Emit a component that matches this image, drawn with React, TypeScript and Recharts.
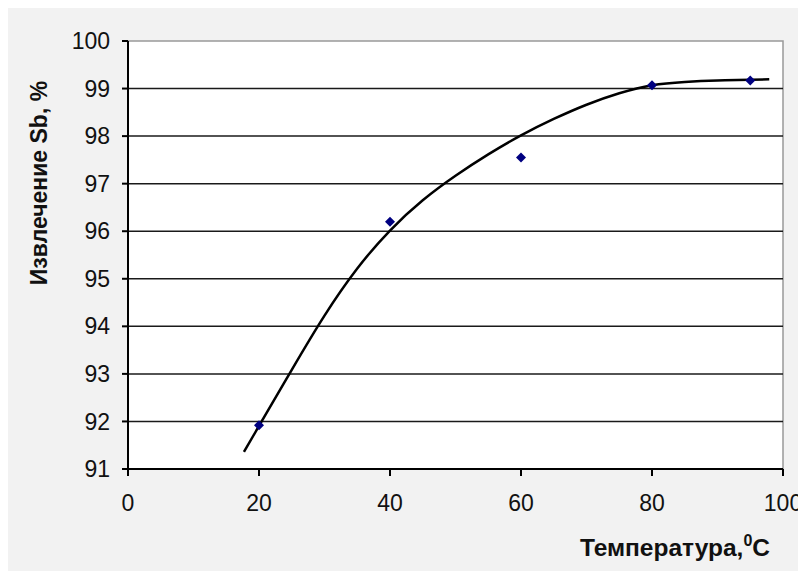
import React from 'react';
import {
  ComposedChart,
  XAxis,
  YAxis,
  Line,
  Scatter,
  ReferenceLine,
  ReferenceArea,
  Label,
} from 'recharts';

const FONT = '"Liberation Sans", Arial, sans-serif';

// Measured extraction of Sb vs. temperature
const tempC = [20, 40, 60, 80, 95];
const extraction = [91.92, 96.2, 97.55, 99.07, 99.17];

// Smoothed trend curve through the measurements
const trendTemp = [17.7, 20, 25, 30, 35, 40, 45, 50, 55, 60, 65, 70, 75, 80, 85, 90, 95, 97.9];
const trendExtraction = [
  91.36, 91.905, 93.085, 94.225, 95.215, 96.015, 96.65, 97.165, 97.615, 98.015, 98.36, 98.66,
  98.9, 99.07, 99.14, 99.17, 99.185, 99.194,
];

// Axis ticks and grid
const xTicks = [0, 20, 40, 60, 80, 100];
const yTicks = [91, 92, 93, 94, 95, 96, 97, 98, 99, 100];
const gridValues = [92, 93, 94, 95, 96, 97, 98, 99];

const points = tempC.map((x, i) => ({ x, y: extraction[i] }));
const trend = trendTemp.map((x, i) => ({ x, y: trendExtraction[i] }));

const Diamond = (props: any) => {
  const { cx, cy } = props;
  if (cx == null || cy == null) return null;
  const r = 5;
  return (
    <polygon
      points={`${cx},${cy - r} ${cx + r},${cy} ${cx},${cy + r} ${cx - r},${cy}`}
      fill="#000080"
    />
  );
};

const YTitle = (props: any) => {
  const vb = props.viewBox || { x: 0, y: 0 };
  const cx = vb.x + 31;
  const cy = vb.y + 142;
  return (
    <text
      x={cx}
      y={cy}
      transform={`rotate(-90, ${cx}, ${cy})`}
      textAnchor="middle"
      dominantBaseline="central"
      fontFamily={FONT}
      fontWeight="bold"
      fontSize={23}
      fill="#111"
    >
      Извлечение Sb, %
    </text>
  );
};

const XTitle = (props: any) => {
  const vb = props.viewBox || { x: 0, y: 0 };
  return (
    <text
      x={vb.x + 642}
      y={vb.y + 87}
      textAnchor="end"
      fontFamily={FONT}
      fontWeight="bold"
      fontSize={24.5}
      fill="#111"
    >
      Температура,
      <tspan fontSize={16} dy={-10}>0</tspan>
      <tspan dy={10}>C</tspan>
    </text>
  );
};

export default function App() {
  return (
    <div style={{ width: 798, height: 563, background: '#f2f2f2' }}>
      <ComposedChart
        width={798}
        height={563}
        margin={{ top: 33, right: 23, bottom: 0, left: 0 }}
      >
        <XAxis
          type="number"
          dataKey="x"
          domain={[0, 100]}
          ticks={xTicks}
          interval={0}
          allowDataOverflow
          height={102}
          tickSize={7}
          tickMargin={19}
          axisLine={{ stroke: '#000', strokeWidth: 2 }}
          tickLine={{ stroke: '#000', strokeWidth: 2 }}
          tick={{ fontFamily: FONT, fontSize: 23, fill: '#111' }}
        >
          <Label content={<XTitle />} />
        </XAxis>
        <YAxis
          type="number"
          domain={[91, 100]}
          ticks={yTicks}
          interval={0}
          allowDataOverflow
          width={120}
          tickSize={6}
          tickMargin={12}
          axisLine={{ stroke: '#000', strokeWidth: 2 }}
          tickLine={{ stroke: '#000', strokeWidth: 2 }}
          tick={{ fontFamily: FONT, fontSize: 23, fill: '#111' }}
        >
          <Label content={<YTitle />} />
        </YAxis>
        <ReferenceArea
          x1={0}
          x2={100}
          y1={91}
          y2={100}
          fill="#ffffff"
          fillOpacity={1}
          stroke="#999999"
          strokeWidth={1.5}
        />
        {gridValues.map((v) => (
          <ReferenceLine key={v} y={v} stroke="#1a1a1a" strokeWidth={1.5} />
        ))}
        <Line
          data={trend}
          dataKey="y"
          type="natural"
          stroke="#000"
          strokeWidth={2.5}
          dot={false}
          activeDot={false}
          isAnimationActive={false}
        />
        <Scatter
          data={points}
          dataKey="y"
          shape={<Diamond />}
          isAnimationActive={false}
        />
      </ComposedChart>
    </div>
  );
}
